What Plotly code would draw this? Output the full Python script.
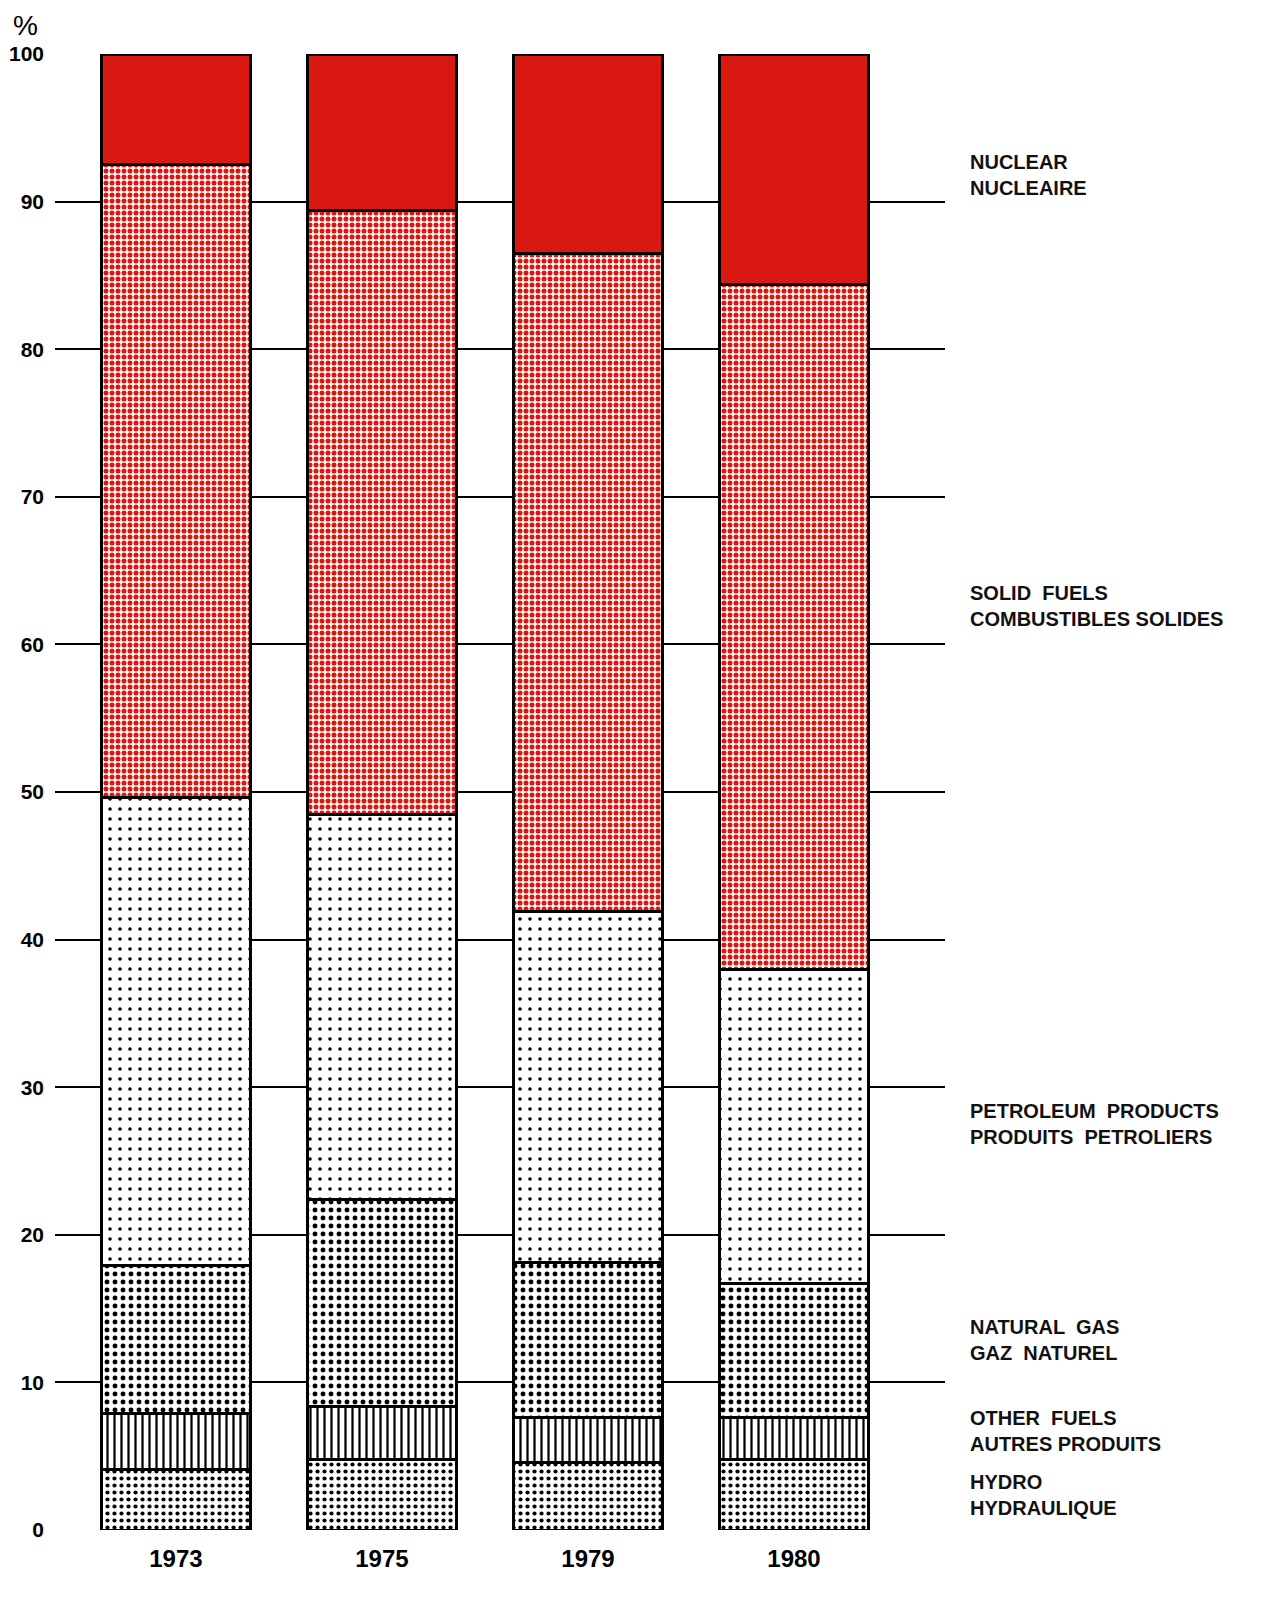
import plotly.graph_objects as go

years = ["1973", "1975", "1979", "1980"]
hydro = [4.1, 4.8, 4.6, 4.8]
other_fuels = [3.8, 3.6, 3.0, 2.8]
natural_gas = [10.0, 14.0, 10.5, 9.1]
petroleum = [31.7, 26.1, 23.8, 21.3]
solid_fuels = [42.9, 40.9, 44.6, 46.4]
nuclear = [7.5, 10.6, 13.5, 15.6]

labels = [
    ("HYDRO<br>HYDRAULIQUE", 2.4),
    ("OTHER  FUELS<br>AUTRES PRODUITS", 6.7),
    ("NATURAL  GAS<br>GAZ  NATUREL", 12.9),
    ("PETROLEUM  PRODUCTS<br>PRODUITS  PETROLIERS", 27.5),
    ("SOLID  FUELS<br>COMBUSTIBLES SOLIDES", 62.6),
    ("NUCLEAR<br>NUCLEAIRE", 91.8),
]
yticks = list(range(0, 101, 10))

RED = "#d91911"
series = [
    ("Hydro", hydro, dict(shape=".", fgcolor="black", bgcolor="white", size=7, solidity=0.28, fillmode="replace")),
    ("Other fuels", other_fuels, dict(shape="|", fgcolor="black", bgcolor="white", size=7, solidity=0.32, fillmode="replace")),
    ("Natural gas", natural_gas, dict(shape=".", fgcolor="black", bgcolor="white", size=8, solidity=0.3, fillmode="replace")),
    ("Petroleum", petroleum, dict(shape=".", fgcolor="black", bgcolor="white", size=10, solidity=0.1, fillmode="replace")),
    ("Solid fuels", solid_fuels, dict(shape=".", fgcolor=RED, bgcolor="white", size=6, solidity=0.55, fillmode="replace")),
    ("Nuclear", nuclear, None),
]

fig = go.Figure()
for name, vals, pat in series:
    marker = dict(color=RED if pat is None else "white", line=dict(color="black", width=3))
    if pat is not None:
        marker["pattern"] = pat
    fig.add_trace(go.Bar(x=years, y=vals, name=name, marker=marker, width=0.72, showlegend=False))

for text, yv in labels:
    fig.add_annotation(text="<b>%s</b>" % text, xref="paper", yref="y", x=1.026, y=yv,
                       xanchor="left", yanchor="middle", showarrow=False, align="left",
                       font=dict(family="Liberation Sans, Arial", size=20, color="#111111"))

fig.add_annotation(text="%", xref="paper", yref="paper", x=-0.0326, y=1.0, xanchor="center",
                   yanchor="middle", yshift=29, showarrow=False,
                   font=dict(family="Liberation Sans, Arial", size=28, color="black"))

fig.update_layout(
    barmode="stack",
    width=1261, height=1605,
    margin=dict(l=47, r=324, t=46, b=83, autoexpand=False),
    paper_bgcolor="white", plot_bgcolor="white",
    xaxis=dict(range=[-0.587, 3.733], showgrid=False, showline=False, zeroline=False, automargin=False,
               tickvals=years, ticktext=["<b>%s</b>" % y for y in years], ticks="", ticklabelstandoff=12,
               tickfont=dict(family="Liberation Sans, Arial", size=24, color="black")),
    yaxis=dict(range=[0, 100], tickvals=yticks, ticktext=["<b>%d</b>" % v for v in yticks],
               showgrid=True, gridcolor="black", gridwidth=1.5, zeroline=False, showline=False,
               automargin=False, ticks="", ticklabelstandoff=10,
               tickfont=dict(family="Liberation Sans, Arial", size=21, color="black")),
)

fig.write_html("out.html")
